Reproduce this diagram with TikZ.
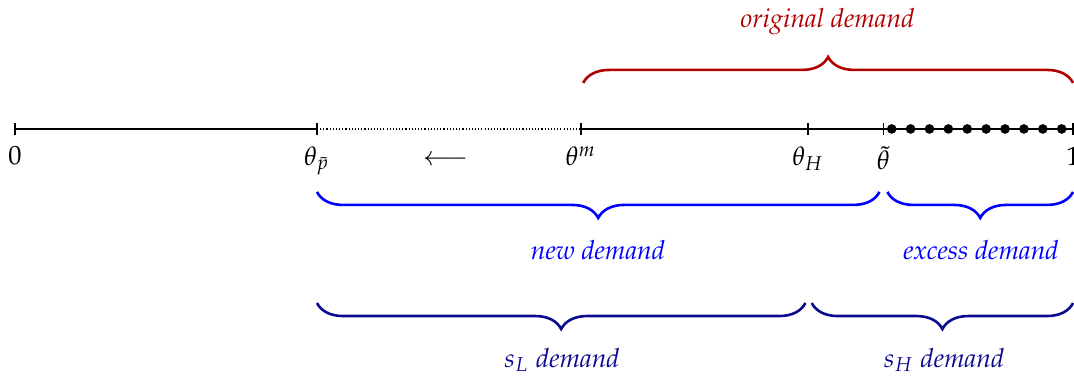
\documentclass[tikz,border=0pt]{standalone}
\usepackage[T1]{fontenc}
\usepackage{mathpazo}
\usepackage{tikz}
\usetikzlibrary{decorations.pathreplacing}
\usepackage{xcolor}
\definecolor{darkred}{RGB}{178,0,0}
\definecolor{navyblue}{RGB}{10,10,140}

\begin{document}
\begin{tikzpicture}[
    brace/.style={decorate, decoration={brace, amplitude=7pt}, line width=0.7pt},
    dot/.style={circle, fill=black, inner sep=0pt, minimum size=2.6pt},
    axislabel/.style={below=2.2pt}]
    \fontsize{7.1}{8.5}\selectfont
    \useasboundingbox (-0.142,-2.335) rectangle (10.009,1.219);

    % points on the line
    \coordinate (zero) at (0,0);
    \coordinate (pbar) at (2.854,0);
    \coordinate (mon) at (5.35,0);
    \coordinate (high) at (7.495,0);
    \coordinate (tilde) at (8.207,0);
    \coordinate (one) at (10,0);

    % the line
    \draw (zero) -- (pbar);
    \draw[line width=0.3pt, dash pattern=on 0.3pt off 0.55pt] (pbar) -- (mon);
    \draw (mon) -- (one);
    \foreach \p in {zero,pbar,mon,high,tilde,one}
        \draw ([yshift=-0.055cm]\p) -- ([yshift=0.055cm]\p);

    % excess types
    \foreach \i in {0,...,9}
        \node[dot] (d\i) at (8.286+0.1785*\i,0) {};

    % labels
    \node[axislabel] (l0) at (zero) {$0$};
    \node[axislabel] (lp) at (pbar) {$\theta_{\bar{p}}$};
    \node[axislabel] (lm) at (mon) {$\theta^{m}$};
    \node[axislabel] (lh) at (high) {$\theta_{H}$};
    \node[axislabel] (lt) at (tilde) {$\tilde{\theta}$};
    \node[axislabel] (l1) at (one) {$1$};
    \node (arr) at (4.07,-0.3) {$\longleftarrow$};

    % brace ends
    \coordinate (oa) at (5.37,0.435);
    \coordinate (ob) at (10,0.435);
    \coordinate (na) at (2.854,-0.595);
    \coordinate (nb) at (8.17,-0.595);
    \coordinate (ea) at (8.245,-0.595);
    \coordinate (eb) at (10,-0.595);
    \coordinate (la) at (2.854,-1.645);
    \coordinate (lb) at (7.47,-1.645);
    \coordinate (ha) at (7.53,-1.645);
    \coordinate (hb) at (10,-1.645);

    % original demand
    \draw[brace, darkred] (oa) -- (ob);
    \node[darkred] (orig) at (7.68,1.01) {\textit{original demand}};

    % new and excess demand
    \draw[brace, blue] (nb) -- (na);
    \draw[brace, blue] (eb) -- (ea);
    \node[blue] (new) at (5.51,-1.144) {\textit{new demand}};
    \node[blue] (exc) at (9.13,-1.144) {\textit{excess demand}};

    % demand by type
    \draw[brace, navyblue] (lb) -- (la);
    \draw[brace, navyblue] (hb) -- (ha);
    \node[navyblue] (sl) at (5.17,-2.183) {$s_L$ \textit{demand}};
    \node[navyblue] (sh) at (8.78,-2.183) {$s_H$ \textit{demand}};
\end{tikzpicture}
\end{document}
